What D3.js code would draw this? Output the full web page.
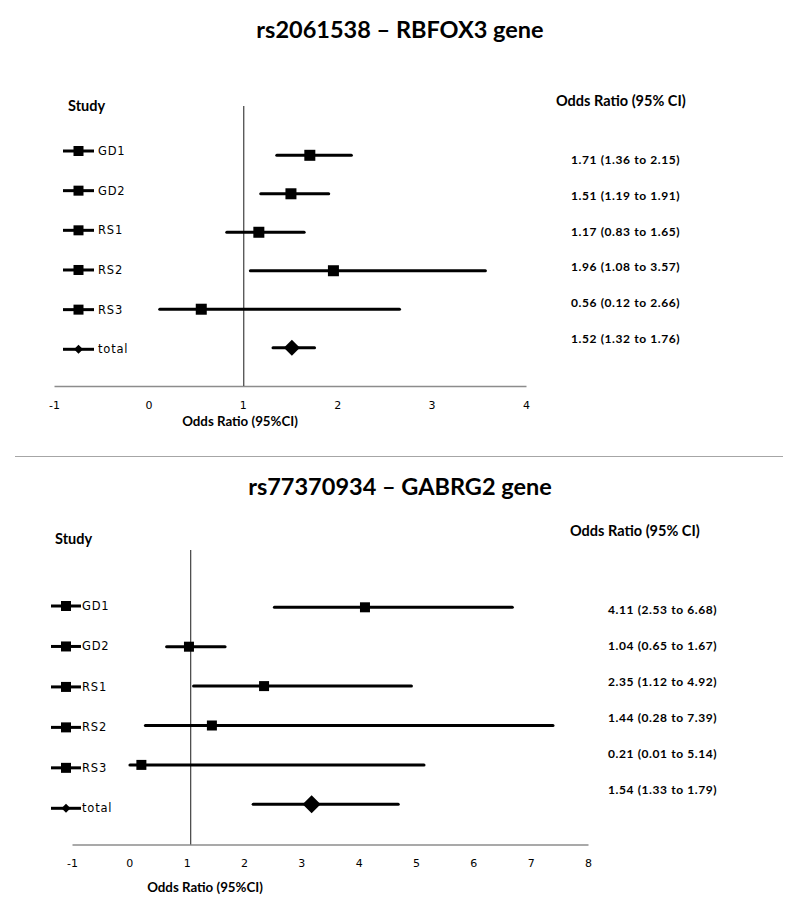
<!DOCTYPE html>
<html>
<head>
<meta charset="utf-8">
<script src="https://cdn.jsdelivr.net/npm/d3@7"></script>
<style>
  html, body { margin: 0; padding: 0; background: #fff; }
  svg { display: block; }
</style>
</head>
<body>
<svg id="chart" width="800" height="906"></svg>
<script>
// ---------------- DATA ----------------
const studies = ["GD1", "GD2", "RS1", "RS2", "RS3", "total"];
const legendLabels = ["GD1", "GD2", "RS1", "RS2", "RS3", "total"];

// Panel 1: rs2061538 – RBFOX3 gene
const title1 = "rs2061538 – RBFOX3 gene";
const or1 = [1.71, 1.51, 1.17, 1.96, 0.56, 1.52];
const lo1 = [1.36, 1.19, 0.83, 1.08, 0.12, 1.32];
const hi1 = [2.15, 1.91, 1.65, 3.57, 2.66, 1.76];
const text1 = ["1.71 (1.36 to 2.15)", "1.51 (1.19 to 1.91)", "1.17 (0.83 to 1.65)",
               "1.96 (1.08 to 3.57)", "0.56 (0.12 to 2.66)", "1.52 (1.32 to 1.76)"];
const ticks1 = [-1, 0, 1, 2, 3, 4];
const ref1 = 1.01;

// Panel 2: rs77370934 – GABRG2 gene (values as plotted in the picture)
const title2 = "rs77370934 – GABRG2 gene";
const or2 = [4.11, 1.04, 2.35, 1.44, 0.21, 3.18];
const lo2 = [2.53, 0.65, 1.12, 0.28, 0.01, 2.16];
const hi2 = [6.68, 1.67, 4.92, 7.39, 5.14, 4.69];
const text2 = ["4.11 (2.53 to 6.68)", "1.04 (0.65 to 1.67)", "2.35 (1.12 to 4.92)",
               "1.44 (0.28 to 7.39)", "0.21 (0.01 to 5.14)", "1.54 (1.33 to 1.79)"];
const ticks2 = [-1, 0, 1, 2, 3, 4, 5, 6, 7, 8];
const ref2 = 1.07;

const colHeader = "Odds Ratio (95% CI)";
const axisTitle = "Odds Ratio (95%CI)";
const studyHeader = "Study";

// ---------------- LAYOUT ----------------
const svg = d3.select("#chart");
const boldFont = "Lato, 'Open Sans', sans-serif";
const lightFont = "'DejaVu Sans', Verdana, sans-serif";

const panels = [
  { title: title1, titleY: 38, or: or1, lo: lo1, hi: hi1, text: text1, ticks: ticks1, ref: ref1,
    xRange: [54, 526], rowRange: [155.3, 347.7], legRange: [151, 349.3], txtRange: [160, 338.3],
    axisY: 386, refTop: 106, studyX: 68, studyY: 106, legX: [63, 94], legSq: 10, legTextX: 98,
    headX: 556, headY: 101, txtX: 571, axTitleX: 240, axTitleY: 421, sq: 11, dia: 8 },
  { title: title2, titleY: 495, or: or2, lo: lo2, hi: hi2, text: text2, ticks: ticks2, ref: ref2,
    xRange: [72, 588], rowRange: [607.3, 804.3], legRange: [606, 808.3], txtRange: [610, 789.3],
    axisY: 844.5, refTop: 550, studyX: 55, studyY: 539, legX: [51, 81], legSq: 10, legTextX: 82,
    headX: 570, headY: 531, txtX: 608, axTitleX: 205, axTitleY: 887, sq: 10, dia: 9 }
];

// separator
svg.append("line").attr("x1", 15).attr("x2", 783).attr("y1", 456.5).attr("y2", 456.5)
  .attr("stroke", "#a6a6a6").attr("stroke-width", 1);

panels.forEach(p => {
  const g = svg.append("g");
  const x = d3.scaleLinear().domain([p.ticks[0], p.ticks[p.ticks.length - 1]]).range(p.xRange);
  const y = d3.scalePoint().domain(studies).range(p.rowRange);
  const yl = d3.scalePoint().domain(studies).range(p.legRange);
  const yt = d3.scalePoint().domain(studies).range(p.txtRange);

  // title
  g.append("text").attr("x", 400).attr("y", p.titleY).attr("text-anchor", "middle")
    .attr("font-family", boldFont).attr("font-weight", "bold").attr("font-size", 23.5)
    .attr("fill", "#000").text(p.title);

  // Study header
  g.append("text").attr("x", p.studyX).attr("y", p.studyY).attr("dy", "0.35em")
    .attr("font-family", boldFont).attr("font-weight", "bold").attr("font-size", 14.5)
    .text(studyHeader);

  // column header
  g.append("text").attr("x", p.headX).attr("y", p.headY).attr("dy", "0.35em")
    .attr("font-family", boldFont).attr("font-weight", "bold").attr("font-size", 14.5)
    .text(colHeader);

  // axis
  const axis = d3.axisBottom(x).tickValues(p.ticks).tickSize(0).tickPadding(15)
    .tickFormat(d => String(d));
  const ax = g.append("g").attr("transform", `translate(0,${p.axisY})`).call(axis);
  ax.select(".domain").attr("stroke", "#8c8c8c").attr("stroke-width", 1.5);
  ax.selectAll("text").attr("font-family", lightFont).attr("font-size", 11).attr("fill", "#000");

  // axis title
  g.append("text").attr("x", p.axTitleX).attr("y", p.axTitleY).attr("dy", "0.35em")
    .attr("text-anchor", "middle")
    .attr("font-family", boldFont).attr("font-weight", "bold").attr("font-size", 13.3)
    .text(axisTitle);

  // reference line
  g.append("line").attr("x1", x(p.ref)).attr("x2", x(p.ref))
    .attr("y1", p.refTop).attr("y2", p.axisY)
    .attr("stroke", "#404040").attr("stroke-width", 1.2);

  const rows = studies.map((s, i) => ({ s, i, or: p.or[i], lo: p.lo[i], hi: p.hi[i], txt: p.text[i], leg: legendLabels[i] }));

  // CI lines
  g.selectAll("line.ci").data(rows).join("line").attr("class", "ci")
    .attr("x1", d => x(d.lo)).attr("x2", d => x(d.hi))
    .attr("y1", d => y(d.s)).attr("y2", d => y(d.s))
    .attr("stroke", "#000").attr("stroke-width", 3).attr("stroke-linecap", "round");

  // markers
  rows.forEach(d => {
    const cx = x(d.or), cy = y(d.s);
    if (d.s === "total") {
      g.append("path").attr("d", `M${cx - p.dia},${cy}L${cx},${cy - p.dia}L${cx + p.dia},${cy}L${cx},${cy + p.dia}Z`)
        .attr("fill", "#000");
    } else {
      g.append("rect").attr("x", cx - p.sq / 2).attr("y", cy - p.sq / 2)
        .attr("width", p.sq).attr("height", p.sq).attr("fill", "#000");
    }
  });

  // legend
  rows.forEach(d => {
    const ly = yl(d.s);
    const mx = (p.legX[0] + p.legX[1]) / 2;
    g.append("line").attr("x1", p.legX[0]).attr("x2", p.legX[1]).attr("y1", ly).attr("y2", ly)
      .attr("stroke", "#000").attr("stroke-width", 3);
    if (d.s === "total") {
      g.append("path").attr("d", `M${mx - 4.5},${ly}L${mx},${ly - 4.5}L${mx + 4.5},${ly}L${mx},${ly + 4.5}Z`).attr("fill", "#000");
    } else {
      g.append("rect").attr("x", mx - p.legSq / 2).attr("y", ly - p.legSq / 2)
        .attr("width", p.legSq).attr("height", p.legSq).attr("fill", "#000");
    }
    g.append("text").attr("x", p.legTextX).attr("y", ly).attr("dy", "0.35em")
      .attr("font-family", lightFont).attr("font-size", 11.5).attr("letter-spacing", 0.8)
      .attr("fill", "#000")
      .text(d.leg);
  });

  // value texts
  g.selectAll("text.val").data(rows).join("text").attr("class", "val")
    .attr("x", p.txtX).attr("y", d => yt(d.s)).attr("dy", "0.35em")
    .attr("font-family", boldFont).attr("font-weight", "bold").attr("font-size", 12)
    .attr("letter-spacing", 0.6)
    .text(d => d.txt);
});
</script>
</body>
</html>
